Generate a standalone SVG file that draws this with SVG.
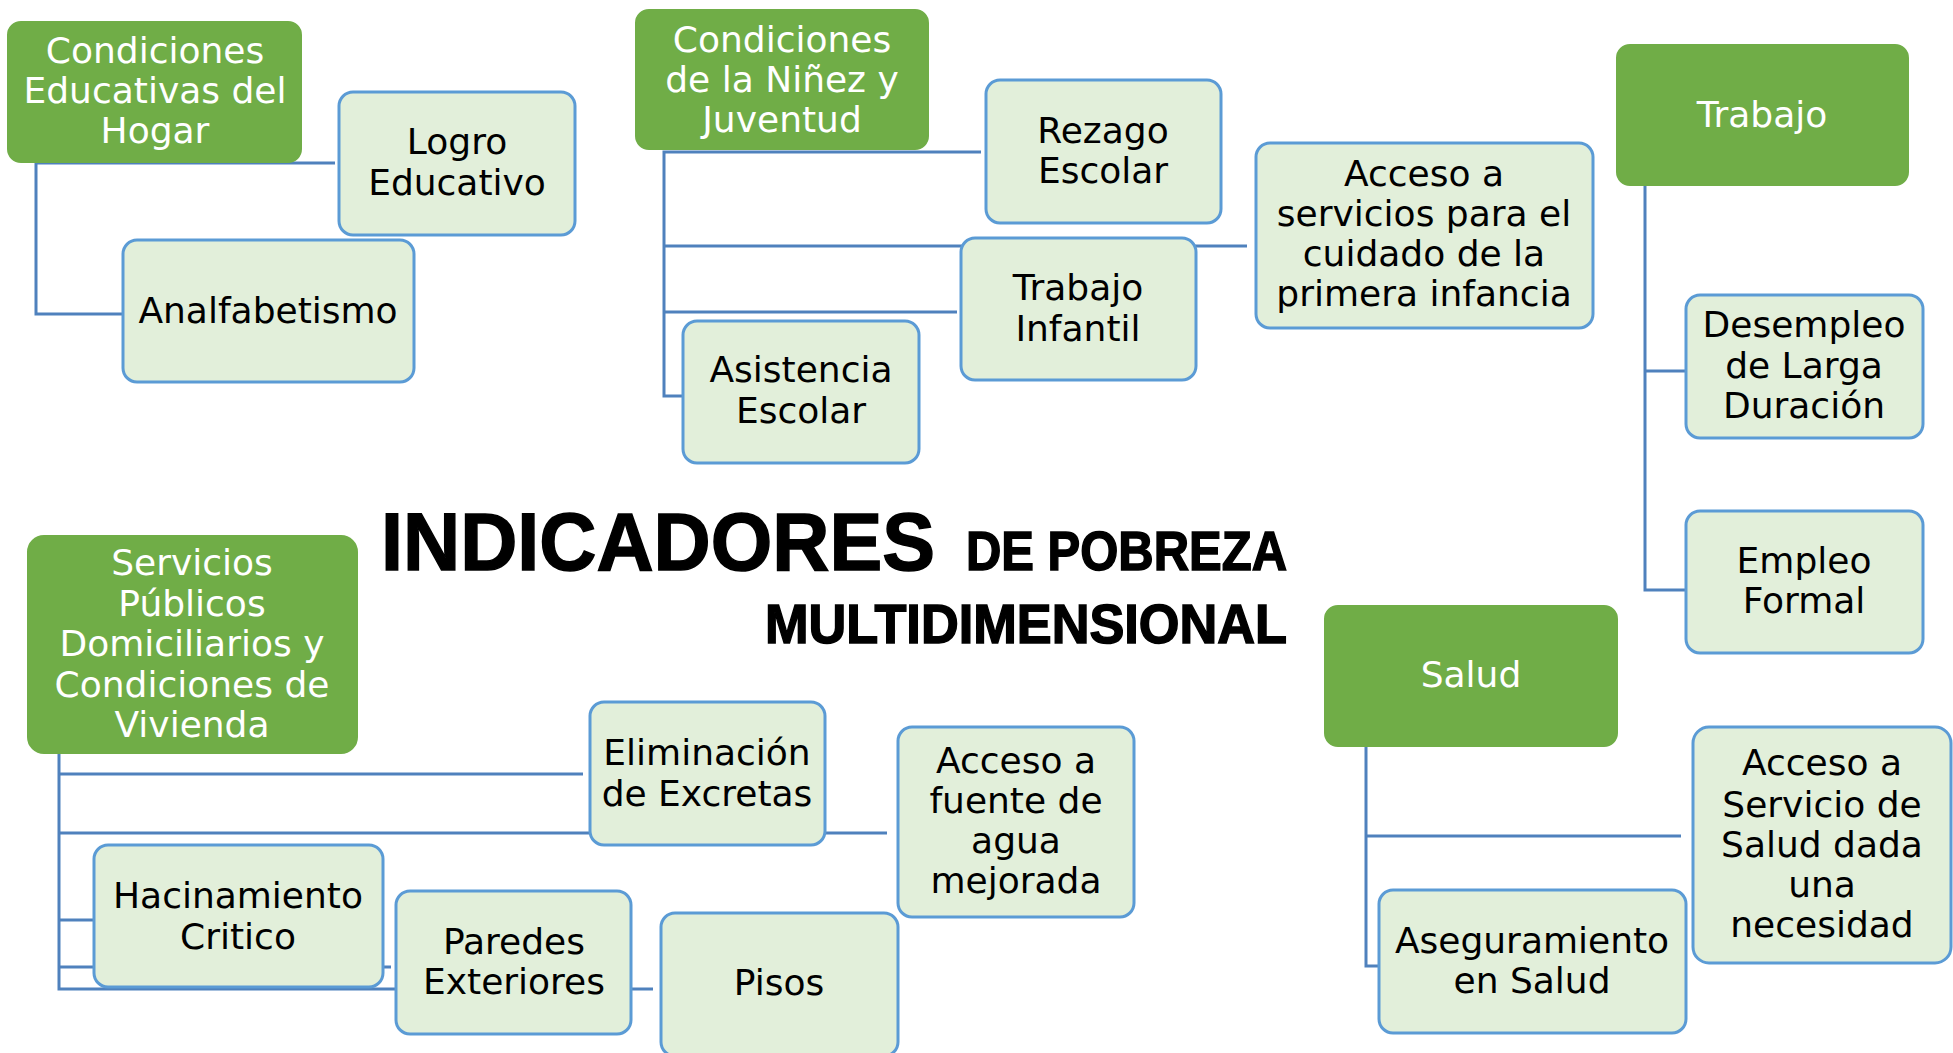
<svg xmlns="http://www.w3.org/2000/svg" width="1953" height="1053" viewBox="0 0 1953 1053">
<style>
.bg{fill:#ffffff}
.conn{fill:none;stroke:#4f81bd;stroke-width:3}
.head rect{fill:#70ad47;stroke:#70ad47;stroke-width:2}
.leaf rect{fill:#e2efda;stroke:#5b9bd5;stroke-width:3}
.head text{fill:#ffffff;font-family:"DejaVu Sans",sans-serif;font-size:36px;text-anchor:middle}
.leaf text{fill:#000000;font-family:"DejaVu Sans",sans-serif;font-size:36px;text-anchor:middle}
.title{font-family:"Liberation Sans",Arial,sans-serif;font-weight:bold;fill:#000000;stroke:#000000;stroke-width:1.5}
</style>
<rect class="bg" x="0" y="0" width="1953" height="1053"/>
<g id="connectors">
<path class="conn" d="M335,163 H36 V314 H123"/>
<path class="conn" d="M981,152 H664 V396 H683 M664,246 H1247 M664,312 H957"/>
<path class="conn" d="M1645,186 V590 H1686 M1645,371 H1686"/>
<path class="conn" d="M59,754 V989 H653 M59,774 H583 M59,833 H887 M59,920 H94 M59,967 H391"/>
<path class="conn" d="M1366,747 V966 H1379 M1366,836 H1681"/>
</g>
<g id="n-hogar" class="head"><rect x="8" y="22" width="293" height="140" rx="13"/>
<text x="155" y="63">Condiciones</text><text x="155" y="103">Educativas del</text><text x="155" y="143">Hogar</text></g>
<g id="n-logro" class="leaf"><rect x="339" y="92" width="236" height="143" rx="14"/>
<text x="457" y="154">Logro</text><text x="457" y="195">Educativo</text></g>
<g id="n-analf" class="leaf"><rect x="123" y="240" width="291" height="142" rx="14"/>
<text x="268" y="323">Analfabetismo</text></g>
<g id="n-ninez" class="head"><rect x="636" y="10" width="292" height="139" rx="13"/>
<text x="782" y="52">Condiciones</text><text x="782" y="92">de la Niñez y</text><text x="782" y="132">Juventud</text></g>
<g id="n-rezago" class="leaf"><rect x="986" y="80" width="235" height="143" rx="14"/>
<text x="1103" y="143">Rezago</text><text x="1103" y="183">Escolar</text></g>
<g id="n-trabinf" class="leaf"><rect x="961" y="238" width="235" height="142" rx="14"/>
<text x="1078" y="300">Trabajo</text><text x="1078" y="341">Infantil</text></g>
<g id="n-asist" class="leaf"><rect x="683" y="321" width="236" height="142" rx="14"/>
<text x="801" y="382">Asistencia</text><text x="801" y="423">Escolar</text></g>
<g id="n-infancia" class="leaf"><rect x="1256" y="143" width="337" height="185" rx="14"/>
<text x="1424" y="186">Acceso a</text><text x="1424" y="226">servicios para el</text><text x="1424" y="266">cuidado de la</text><text x="1424" y="306">primera infancia</text></g>
<g id="n-trabajo" class="head"><rect x="1617" y="45" width="291" height="140" rx="13"/>
<text x="1762" y="127">Trabajo</text></g>
<g id="n-desempleo" class="leaf"><rect x="1686" y="295" width="237" height="143" rx="14"/>
<text x="1804" y="337">Desempleo</text><text x="1804" y="378">de Larga</text><text x="1804" y="418">Duración</text></g>
<g id="n-empleo" class="leaf"><rect x="1686" y="511" width="237" height="142" rx="14"/>
<text x="1804" y="573">Empleo</text><text x="1804" y="613">Formal</text></g>
<g id="n-servicios" class="head"><rect x="28" y="536" width="329" height="217" rx="16"/>
<text x="192" y="575">Servicios</text><text x="192" y="616">Públicos</text><text x="192" y="656">Domiciliarios y</text><text x="192" y="697">Condiciones de</text><text x="192" y="737">Vivienda</text></g>
<g id="n-hacin" class="leaf"><rect x="94" y="845" width="289" height="142" rx="14"/>
<text x="238" y="908">Hacinamiento</text><text x="238" y="949">Critico</text></g>
<g id="n-paredes" class="leaf"><rect x="396" y="891" width="235" height="143" rx="14"/>
<text x="514" y="954">Paredes</text><text x="514" y="994">Exteriores</text></g>
<g id="n-excretas" class="leaf"><rect x="590" y="702" width="235" height="143" rx="14"/>
<text x="707" y="765">Eliminación</text><text x="707" y="806">de Excretas</text></g>
<g id="n-agua" class="leaf"><rect x="898" y="727" width="236" height="190" rx="14"/>
<text x="1016" y="773">Acceso a</text><text x="1016" y="813">fuente de</text><text x="1016" y="853">agua</text><text x="1016" y="893">mejorada</text></g>
<g id="n-pisos" class="leaf"><rect x="661" y="913" width="237" height="143" rx="14"/>
<text x="779" y="995">Pisos</text></g>
<g id="n-salud" class="head"><rect x="1325" y="606" width="292" height="140" rx="13"/>
<text x="1471" y="687">Salud</text></g>
<g id="n-accsalud" class="leaf"><rect x="1693" y="727" width="258" height="236" rx="16"/>
<text x="1822" y="775">Acceso a</text><text x="1822" y="817">Servicio de</text><text x="1822" y="857">Salud dada</text><text x="1822" y="897">una</text><text x="1822" y="937">necesidad</text></g>
<g id="n-asegur" class="leaf"><rect x="1379" y="890" width="307" height="143" rx="14"/>
<text x="1532" y="953">Aseguramiento</text><text x="1532" y="993">en Salud</text></g>
<g id="title">
<text class="title" x="381" y="570" font-size="82" textLength="554" lengthAdjust="spacingAndGlyphs">INDICADORES</text>
<text class="title" x="966" y="570" font-size="55" textLength="321" lengthAdjust="spacingAndGlyphs">DE POBREZA</text>
<text class="title" x="765" y="643" font-size="55" textLength="522" lengthAdjust="spacingAndGlyphs">MULTIDIMENSIONAL</text>
</g>
</svg>
